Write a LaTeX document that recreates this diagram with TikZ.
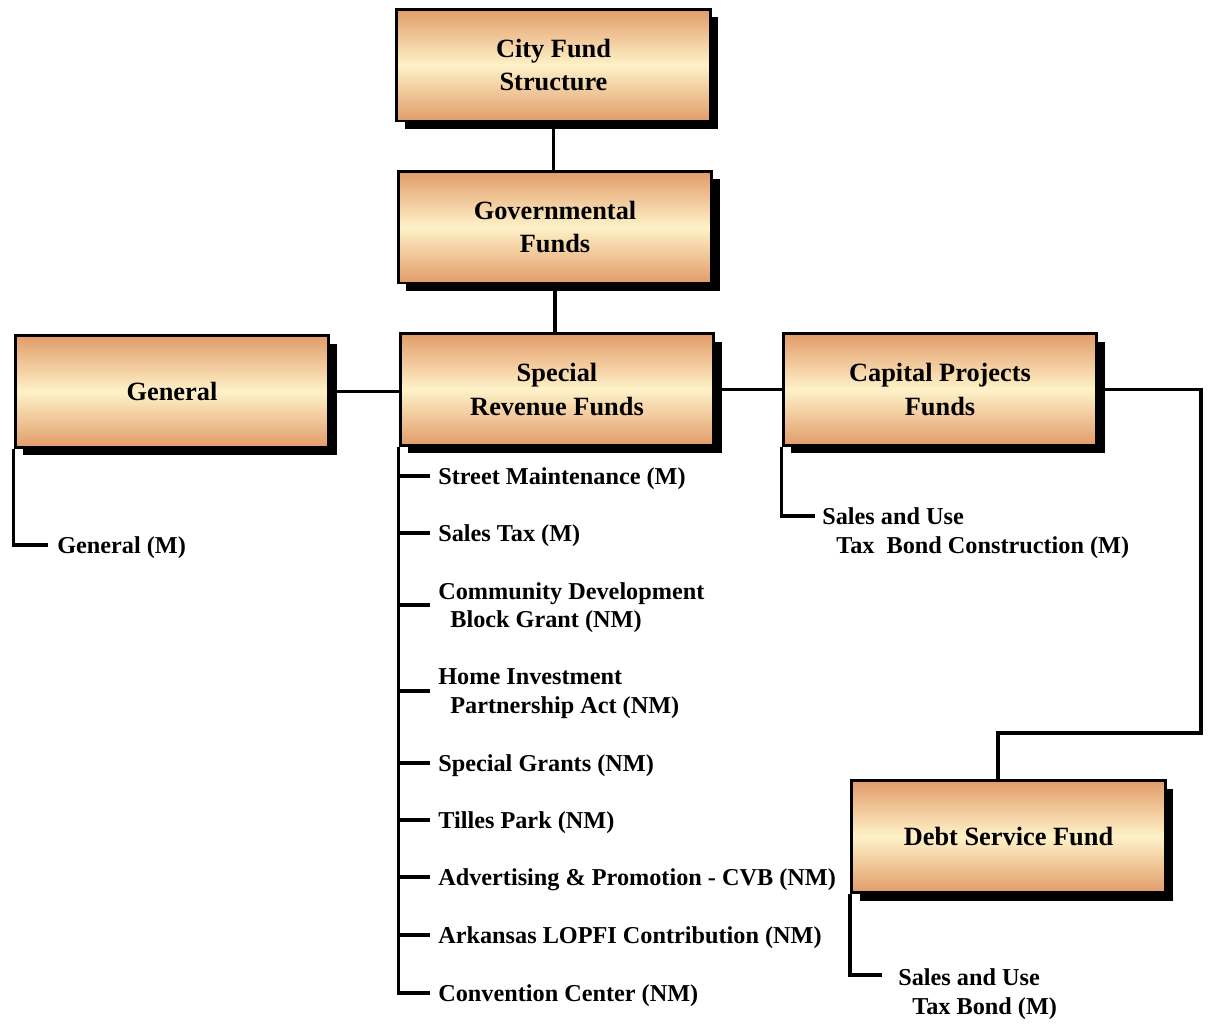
\documentclass[tikz,border=0pt]{standalone}
\usepackage{fontspec}
\setmainfont{Liberation Serif}
\usetikzlibrary{shadows}
\definecolor{fundtan}{RGB}{226,155,105}
\definecolor{fundcream}{RGB}{254,242,200}

\begin{document}
\begin{tikzpicture}[x=0.02cm,y=-0.02cm,
  fundbox/.style={draw=black, line width=1.7pt, minimum width=6.28cm, minimum height=2.24cm,
    inner sep=0pt, align=center, top color=fundtan, bottom color=fundtan, middle color=fundcream,
    general shadow={fill=black, shadow xshift=0.16cm, shadow yshift=-0.16cm},
    font=\fontsize{15}{19}\selectfont\bfseries},
  fundline/.style={line width=1.8pt},
  fundtext/.style={inner sep=0pt, align=left, text depth=0pt, font=\fontsize{13.8}{16.4}\selectfont\bfseries}]
\useasboundingbox (0,0) rectangle (1209,1025);
\node[fundbox] (city) at (553.5,65) {City Fund\\Structure};
\node[fundbox] (gov) at (555,227) {Governmental\\Funds};
\node[fundbox] (gen) at (172,391.5) {General};
\node[fundbox] (srf) at (557,389.5) {Special\\Revenue Funds};
\node[fundbox] (cap) at (940,389.5) {Capital Projects\\Funds};
\node[fundbox] (debt) at (1008.5,836.5) {Debt Service Fund};
\node[fundtext, anchor=west] (genm) at (57,545) {General (M)};
\node[fundtext, anchor=west] (s1) at (438,476) {Street Maintenance (M)};
\node[fundtext, anchor=west] (s2) at (438,533) {Sales Tax (M)};
\node[fundtext, anchor=west] (s3) at (438,605) {Community Development\\\hspace*{0.24cm}Block Grant (NM)};
\node[fundtext, anchor=west] (s4) at (438,691) {Home Investment\\\hspace*{0.24cm}Partnership Act (NM)};
\node[fundtext, anchor=west] (s5) at (438,763) {Special Grants (NM)};
\node[fundtext, anchor=west] (s6) at (438,820) {Tilles Park (NM)};
\node[fundtext, anchor=west] (s7) at (438,877) {Advertising \& Promotion - CVB (NM)};
\node[fundtext, anchor=west] (s8) at (438,935) {Arkansas LOPFI Contribution (NM)};
\node[fundtext, anchor=west] (s9) at (438,993) {Convention Center (NM)};
\node[fundtext, anchor=north west] (capm) at (822,507) {Sales and Use\\\hspace*{0.28cm}Tax\ \ Bond Construction (M)};
\node[fundtext, anchor=north west] (debtm) at (898,968) {Sales and Use\\\hspace*{0.28cm}Tax Bond (M)};
\coordinate (capturn) at (1201,733);
\coordinate (debtjoin) at (998,733);
\draw[fundline] (city.south) -- (city.south |- gov.north);
\draw[fundline] (gov.south) -- (gov.south |- srf.north);
\draw[fundline] (gen.east) -- (gen.east -| srf.west);
\draw[fundline] (srf.east) -- (srf.east -| cap.west);
\draw[fundline] (cap.east) -| (capturn) -- (debtjoin) -- (debtjoin |- debt.north);
\draw[fundline] (gen.south west) |- ([xshift=-0.18cm]genm.west);
\draw[fundline] (srf.south west) |- ([xshift=-0.16cm]s9.west);
\foreach \s in {s1,s2,s3,s4,s5,s6,s7,s8}
  \draw[fundline] (srf.south west |- \s.west) -- ([xshift=-0.16cm]\s.west);
\draw[fundline] (cap.south west) |- ([xshift=-0.14cm,yshift=-0.18cm]capm.north west);
\draw[fundline] (debt.south west) |- ([xshift=-0.32cm,yshift=-0.14cm]debtm.north west);
\end{tikzpicture}
\end{document}
